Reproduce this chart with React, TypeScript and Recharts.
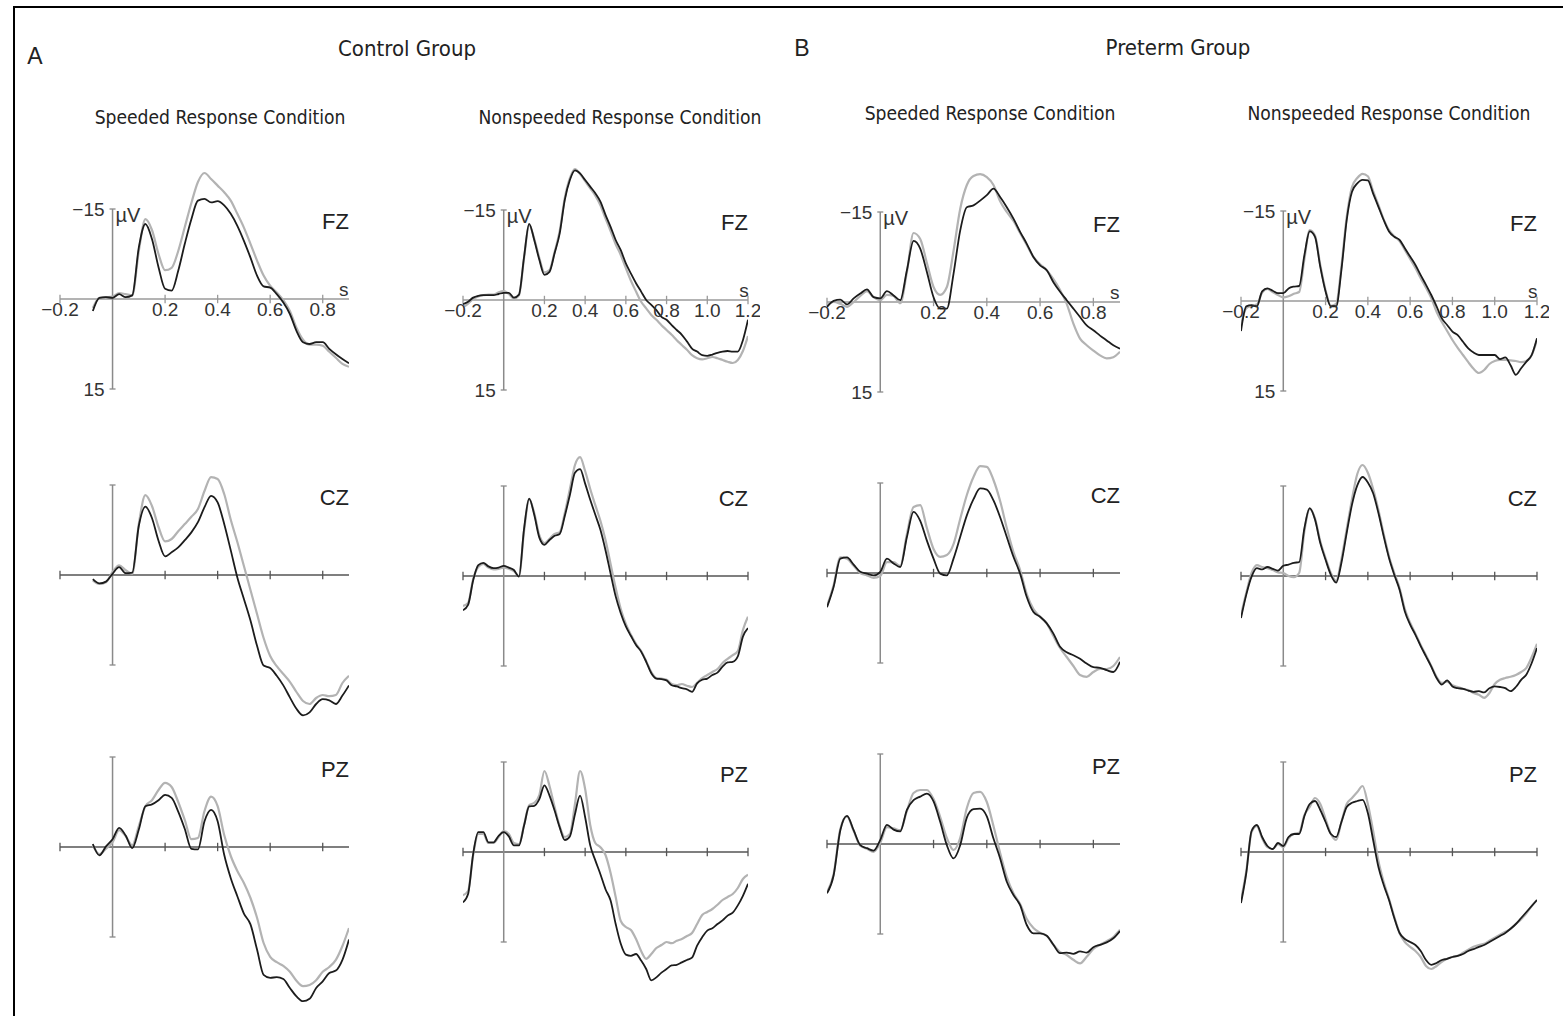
import { LineChart, Line, XAxis, YAxis, ReferenceLine, ReferenceDot } from 'recharts';

type Trace = (number | null)[];

// time base (s) for the two response conditions
const speededTimes = [
  -0.2, -0.175, -0.15, -0.125, -0.1, -0.075, -0.05, -0.025, 0, 0.025, 0.05, 0.075, 0.1, 0.125, 0.15,
  0.175, 0.2, 0.225, 0.25, 0.275, 0.3, 0.325, 0.35, 0.375, 0.4, 0.425, 0.45, 0.475, 0.5, 0.525, 0.55,
  0.575, 0.6, 0.625, 0.65, 0.675, 0.7, 0.725, 0.75, 0.775, 0.8, 0.825, 0.85, 0.875, 0.9,
];
const nonspeededTimes = [
  -0.2, -0.175, -0.15, -0.125, -0.1, -0.075, -0.05, -0.025, 0, 0.025, 0.05, 0.075, 0.1, 0.125, 0.15,
  0.175, 0.2, 0.225, 0.25, 0.275, 0.3, 0.325, 0.35, 0.375, 0.4, 0.425, 0.45, 0.475, 0.5, 0.525, 0.55,
  0.575, 0.6, 0.625, 0.65, 0.675, 0.7, 0.725, 0.75, 0.775, 0.8, 0.825, 0.85, 0.875, 0.9, 0.925, 0.95,
  0.975, 1.0, 1.025, 1.05, 1.075, 1.1, 1.125, 1.15, 1.175, 1.2,
];

const speededTicks = [-0.2, 0.2, 0.4, 0.6, 0.8];
const nonspeededTicks = [-0.2, 0.2, 0.4, 0.6, 0.8, 1.0, 1.2];

const groupTitles = ['Control Group', 'Preterm Group'];
const groupLetters = ['A', 'B'];
const conditionTitles = ['Speeded Response Condition', 'Nonspeeded Response Condition'];
const sites = ['FZ', 'CZ', 'PZ'];

// amplitudes in µV (negative up)
// Control group, speeded
const ctrlSpeedFzBlack: Trace = [null, null, null, null, null,
  2.0, -0.2, -0.3, -0.2, -0.8, -0.3, -0.6, -8.6, -12.5, -10.0, -5.3, -1.7, -1.4, -4.7, -9.2, -13.3,
  -16.4, -16.7, -16.1, -16.3, -15.6, -14.2, -12.2, -9.7, -6.9, -3.9, -2.1, -1.9, -0.8, 0.6, 2.5, 5.3,
  7.2, 7.5, 7.2, 7.2, 8.3, 9.2, 10.0, 10.7];
const ctrlSpeedFzGray: Trace = [null, null, null, null, null,
  1.5, -0.2, -0.3, -0.4, -1.0, -0.8, -0.6, -8.0, -13.3, -11.5, -7.5, -4.8, -5.2, -8.0, -12.0, -16.0,
  -19.5, -21.0, -20.0, -18.9, -17.8, -16.4, -14.2, -11.9, -9.2, -6.4, -3.9, -2.2, -1.1, 0.2, 2.0, 4.8,
  6.8, 7.6, 7.6, 7.8, 8.8, 9.8, 10.8, 11.3];
const ctrlSpeedCzBlack: Trace = [null, null, null, null, null,
  0.7, 1.4, 1.1, -0.2, -1.3, -0.3, -0.4, -8.2, -11.4, -9.5, -5.7, -3.1, -3.8, -4.6, -5.8, -7.1,
  -8.8, -11.3, -13.2, -12.1, -8.5, -4.1, 0.4, 4.0, 7.6, 11.8, 15.1, 15.5, 16.8, 18.4, 20.4, 22.3,
  23.4, 22.9, 21.5, 20.7, 20.9, 21.5, 20.1, 18.4];
const ctrlSpeedCzGray: Trace = [null, null, null, null, null,
  0.9, 1.5, 1.2, -0.5, -1.6, -0.8, -0.2, -8.5, -13.3, -11.5, -8.0, -5.6, -6.0, -7.3, -8.5, -9.7,
  -11.0, -14.0, -16.3, -16.0, -13.5, -9.2, -5.5, -1.5, 2.5, 6.5, 10.5, 13.5, 15.2, 16.5, 17.8, 19.5,
  21.0, 21.5, 20.5, 20.0, 20.2, 20.0, 18.0, 16.8];
const ctrlSpeedPzBlack: Trace = [null, null, null, null, null,
  -0.5, 1.4, -0.1, -1.3, -3.2, -1.9, 0.2, -2.9, -6.8, -7.1, -7.8, -8.7, -8.2, -5.9, -3.0, 0.3,
  0.4, -4.3, -6.2, -4.3, 1.3, 5.2, 8.2, 11.1, 12.9, 17.1, 21.3, 21.8, 21.7, 22.0, 23.5, 24.9,
  25.7, 25.3, 23.5, 22.4, 21.0, 20.6, 18.8, 15.4];
const ctrlSpeedPzGray: Trace = [null, null, null, null, null,
  -0.3, 1.2, 0.3, -0.8, -2.8, -1.8, -0.3, -3.5, -6.8, -7.8, -9.5, -10.7, -10.0, -7.5, -4.5, -1.3,
  -1.5, -6.0, -8.4, -6.8, -2.0, 1.5, 4.0, 6.0, 8.5, 11.8, 16.0, 18.3, 19.2, 19.8, 20.8, 22.3,
  23.2, 23.0, 22.2, 20.8, 20.0, 18.8, 16.5, 13.5];

// Control group, nonspeeded
const ctrlSlowFzBlack: Trace = [
  0.7, 0.3, -0.4, -0.7, -0.8, -0.8, -0.8, -1.0, -1.2, -1.2, -0.4, -0.9, -7.2, -12.7, -10.0, -6.7,
  -4.2, -4.7, -7.8, -11.1, -16.7, -20.0, -21.6, -21.1, -20.0, -18.9, -17.8, -16.4, -14.2, -12.2,
  -10.0, -8.3, -6.1, -4.4, -2.8, -1.4, 0.0, 0.8, 1.7, 2.8, 3.3, 4.2, 5.0, 5.8, 6.9, 8.1, 8.6, 9.2,
  9.3, 9.1, 8.8, 8.6, 8.5, 8.6, 8.6, 6.7, 3.3];
const ctrlSlowFzGray: Trace = [
  1.2, 0.6, -0.2, -0.6, -0.8, -0.9, -0.9, -1.3, -1.5, -1.0, -0.2, -0.8, -7.0, -12.5, -10.2, -7.0,
  -4.6, -5.0, -8.0, -11.5, -17.0, -20.3, -21.8, -21.0, -19.8, -18.6, -17.4, -15.8, -13.6, -11.5,
  -9.3, -7.5, -5.3, -3.2, -1.4, 0.3, 1.4, 2.5, 3.3, 4.2, 5.0, 5.8, 6.7, 7.5, 8.3, 9.2, 9.7, 9.9,
  9.7, 9.5, 9.7, 10.0, 10.3, 10.5, 10.0, 8.5, 6.0];
const ctrlSlowCzBlack: Trace = [
  5.7, 4.8, 0.7, -1.8, -2.2, -1.6, -1.3, -1.4, -1.7, -1.4, -1.0, 0.1, -7.9, -12.9, -10.2, -6.4,
  -5.2, -6.0, -6.7, -7.0, -10.0, -13.5, -17.2, -17.8, -15.4, -12.7, -10.2, -7.7, -4.3, -0.4, 3.4,
  6.2, 8.4, 10.0, 11.5, 12.6, 14.3, 16.2, 17.1, 17.2, 17.4, 18.2, 18.4, 18.7, 18.9, 19.3, 17.9,
  17.3, 17.1, 16.5, 16.1, 15.1, 14.4, 14.3, 13.4, 10.1, 8.7];
const ctrlSlowCzGray: Trace = [
  5.0, 4.5, 0.5, -1.5, -2.0, -1.4, -1.1, -1.2, -1.4, -1.2, -0.8, 0.0, -7.5, -12.8, -10.5, -6.8,
  -5.5, -6.2, -7.0, -7.3, -10.5, -14.5, -18.5, -19.8, -17.5, -14.5, -11.8, -9.2, -6.0, -2.0, 2.0,
  5.5, 8.0, 9.8, 11.3, 12.5, 14.2, 16.0, 17.0, 17.1, 17.3, 18.0, 18.2, 18.0, 18.3, 18.5, 17.8,
  17.0, 16.5, 16.0, 15.5, 14.5, 13.8, 13.2, 12.5, 9.0, 6.8];
const ctrlSlowPzBlack: Trace = [
  8.4, 7.0, 0.3, -3.3, -3.3, -1.6, -1.6, -2.7, -3.3, -2.6, -1.1, -1.1, -4.4, -7.6, -7.7, -8.8,
  -11.1, -9.4, -6.9, -4.1, -2.0, -2.6, -6.3, -9.4, -5.8, -1.1, 1.4, 3.7, 6.2, 8.1, 12.0, 15.3,
  17.1, 17.3, 17.0, 18.1, 19.5, 21.4, 20.9, 20.1, 19.5, 18.9, 18.8, 18.4, 18.0, 17.6, 15.6, 14.2,
  13.1, 12.7, 12.0, 11.4, 10.6, 10.1, 8.9, 7.3, 5.3];
const ctrlSlowPzGray: Trace = [
  7.2, 6.5, 0.5, -3.0, -3.0, -1.5, -1.5, -2.5, -3.5, -3.0, -1.5, -1.3, -4.5, -7.8, -8.2, -9.5,
  -13.5, -11.0, -7.5, -4.3, -2.5, -3.0, -8.0, -13.5, -10.5, -4.5, -1.5, -0.8, 0.5, 3.5, 7.5, 11.5,
  12.5, 13.0, 14.5, 16.5, 17.8, 17.0, 16.0, 15.5, 15.0, 15.2, 14.8, 14.5, 14.0, 13.5, 12.0, 10.5,
  10.0, 9.5, 8.8, 8.0, 7.5, 7.0, 6.0, 4.5, 3.8];

// Preterm group, speeded
const pretSpeedFzBlack: Trace = [
  0.8, -0.2, -0.4, 0.4, -0.6, -1.4, -2.1, -0.8, -0.6, -1.8, -1.1, -0.3, -5.3, -10.2, -8.9, -5.0,
  -0.8, 1.1, 1.1, -4.7, -11.9, -15.8, -16.1, -16.9, -17.8, -18.9, -17.5, -15.8, -13.9, -11.7, -9.7,
  -7.5, -6.1, -5.3, -3.3, -1.7, -0.3, 1.1, 2.5, 3.9, 4.7, 5.6, 6.4, 7.2, 7.8];
const pretSpeedFzGray: Trace = [
  0.5, 0.0, 0.3, 0.8, 0.0, -1.0, -1.8, -0.8, -0.3, -1.2, -1.0, 0.2, -5.0, -11.5, -10.5, -6.5,
  -2.5, -1.2, -2.5, -8.5, -15.5, -19.5, -21.0, -21.3, -20.8, -19.5, -16.8, -15.0, -13.5, -11.5, -9.5,
  -7.5, -6.3, -5.3, -3.8, -2.0, 0.3, 3.6, 6.1, 7.2, 8.1, 8.9, 9.4, 9.2, 8.3];
const pretSpeedCzBlack: Trace = [
  5.7, 2.3, -2.4, -2.6, -1.4, -0.2, 0.1, 0.4, -0.2, -2.4, -1.6, -1.0, -6.0, -10.2, -8.7, -5.4,
  -2.4, 0.1, 0.4, -2.4, -6.0, -9.6, -12.3, -14.1, -13.9, -12.1, -9.3, -6.0, -2.7, 0.1, 4.0, 6.5,
  7.3, 8.4, 10.1, 12.3, 13.2, 13.7, 14.3, 15.1, 15.7, 15.8, 16.2, 16.5, 14.8];
const pretSpeedCzGray: Trace = [
  5.5, 2.0, -2.6, -2.4, -1.2, 0.0, 0.4, 0.8, 0.5, -1.8, -1.8, -1.2, -6.5, -11.0, -11.3, -7.5,
  -4.0, -2.7, -3.0, -4.8, -9.0, -13.0, -16.0, -17.8, -17.7, -15.5, -12.0, -7.5, -3.5, -0.5, 3.5,
  6.0, 7.3, 8.4, 10.5, 12.5, 14.0, 15.5, 17.0, 17.3, 16.5, 16.0, 16.0, 15.5, 14.0];
const pretSpeedPzBlack: Trace = [
  8.2, 5.2, -2.3, -4.7, -2.3, 0.2, 0.7, 1.1, -0.7, -3.2, -2.4, -2.1, -5.7, -7.3, -7.9, -8.4,
  -7.1, -3.7, 0.2, 2.4, 0.2, -4.4, -5.8, -5.9, -4.6, -0.9, 2.4, 6.3, 8.5, 10.2, 13.5, 14.9,
  14.9, 15.3, 16.8, 18.2, 18.1, 18.3, 17.9, 18.1, 17.2, 16.8, 16.4, 15.7, 14.5];
const pretSpeedPzGray: Trace = [
  8.0, 5.0, -2.5, -4.6, -2.2, 0.3, 0.8, 1.3, -0.2, -2.8, -2.6, -2.3, -5.5, -8.5, -9.0, -9.0,
  -7.5, -4.5, -1.0, 1.0, -1.0, -6.0, -8.5, -8.7, -7.0, -3.0, 1.5, 5.5, 8.2, 10.0, 12.5, 14.0,
  14.8, 15.3, 16.8, 18.0, 18.5, 19.3, 19.9, 18.8, 17.5, 16.8, 16.2, 15.5, 14.3];

// Preterm group, nonspeeded
const pretSlowFzBlack: Trace = [
  5.0, 0.9, 0.7, 0.9, -1.6, -2.1, -1.7, -1.3, -1.3, -2.1, -2.4, -2.5, -7.7, -11.6, -10.7, -5.7,
  -1.6, 0.9, 0.9, -5.2, -13.5, -18.2, -19.6, -20.2, -20.1, -17.9, -15.7, -13.5, -11.6, -10.7,
  -10.2, -8.8, -7.4, -6.0, -4.3, -2.7, -1.0, 0.9, 2.9, 4.0, 5.1, 5.7, 6.8, 7.9, 8.6, 9.0, 9.0, 9.0,
  9.0, 9.7, 9.4, 10.7, 12.3, 11.2, 10.1, 9.0, 6.2];
const pretSlowFzGray: Trace = [
  4.0, 1.2, 0.8, 0.6, -1.4, -2.0, -1.5, -1.0, -0.6, -0.8, -1.2, -1.5, -7.0, -11.8, -10.9, -6.0,
  -1.8, 0.8, 0.5, -5.8, -14.0, -19.0, -20.5, -21.2, -20.8, -18.3, -16.0, -13.6, -11.8, -10.8,
  -10.0, -8.5, -7.0, -5.5, -3.8, -2.2, -0.5, 1.8, 3.5, 5.0, 6.5, 7.8, 9.0, 10.2, 11.3, 12.0, 11.5,
  10.5, 10.0, 9.8, 9.8, 9.9, 10.0, 10.2, 10.0, 9.0, 6.5];
const pretSlowCzBlack: Trace = [
  7.0, 3.1, 0.1, -1.3, -1.1, -1.5, -1.2, -0.9, -1.7, -1.9, -2.2, -2.3, -8.0, -11.3, -9.4, -5.5,
  -2.7, -0.2, 1.1, -2.2, -7.2, -11.9, -15.1, -16.5, -15.6, -13.8, -10.5, -6.6, -3.0, -0.2, 2.3,
  5.9, 8.1, 9.8, 11.7, 13.4, 15.1, 17.0, 18.1, 17.4, 18.4, 18.7, 18.8, 19.1, 19.3, 19.2, 19.4,
  18.7, 18.4, 18.5, 18.7, 19.2, 18.5, 17.3, 16.4, 14.5, 12.0];
const pretSlowCzGray: Trace = [
  6.5, 2.8, -0.5, -1.8, -1.5, -1.3, -1.0, -0.6, -0.5, 0.0, 0.2, -0.5, -7.5, -11.2, -9.6, -5.8,
  -3.0, -0.5, 0.8, -2.8, -7.8, -12.8, -17.0, -18.5, -17.2, -14.5, -11.0, -7.0, -3.3, -0.5, 2.0,
  5.5, 7.8, 9.6, 11.5, 13.2, 15.0, 16.8, 17.8, 17.6, 18.2, 18.5, 18.8, 19.0, 19.5, 19.8, 20.3,
  19.5, 18.0, 17.3, 17.0, 16.8, 16.5, 16.0, 15.3, 13.5, 11.3];
const pretSlowPzBlack: Trace = [
  8.5, 3.5, -3.5, -4.5, -2.5, -1.0, -0.5, -1.5, -1.0, -2.5, -3.0, -3.0, -6.0, -8.0, -8.5, -7.0,
  -5.0, -3.0, -2.5, -5.0, -7.5, -8.2, -8.5, -8.7, -6.5, -2.0, 2.5, 5.5, 8.0, 11.0, 13.5, 14.5,
  15.0, 15.5, 16.5, 18.0, 18.8, 18.5, 18.0, 17.8, 17.5, 17.3, 17.0, 16.5, 16.2, 15.8, 15.5, 15.0,
  14.5, 14.0, 13.5, 12.8, 12.0, 11.0, 10.0, 9.0, 8.0];
const pretSlowPzGray: Trace = [
  8.0, 3.2, -3.3, -4.3, -2.3, -0.8, -0.5, -1.3, -0.8, -2.3, -3.0, -3.2, -6.2, -7.5, -9.0, -8.0,
  -5.5, -3.0, -2.0, -5.0, -8.0, -9.0, -10.0, -11.0, -8.0, -3.5, 1.5, 5.0, 7.8, 10.8, 13.5, 15.0,
  15.8, 16.5, 17.5, 19.0, 19.5, 19.0, 18.3, 17.8, 17.5, 17.3, 16.8, 16.3, 15.8, 15.5, 15.3, 14.8,
  14.3, 13.8, 13.3, 12.8, 12.0, 11.2, 10.2, 9.0, 8.0];

const columns = [
  { left: 60, width: 289, tEnd: 0.9, times: speededTimes, ticks: speededTicks },
  { left: 463, width: 285, tEnd: 1.2, times: nonspeededTimes, ticks: nonspeededTicks },
  { left: 827, width: 293, tEnd: 0.9, times: speededTimes, ticks: speededTicks },
  { left: 1241, width: 296, tEnd: 1.2, times: nonspeededTimes, ticks: nonspeededTicks },
];
const rowBaselines = [
  [299, 575, 847],
  [300, 576, 852],
  [302, 573, 844],
  [301, 576, 852],
];
const traces: [Trace, Trace][][] = [
  [[ctrlSpeedFzBlack, ctrlSpeedFzGray], [ctrlSpeedCzBlack, ctrlSpeedCzGray], [ctrlSpeedPzBlack, ctrlSpeedPzGray]],
  [[ctrlSlowFzBlack, ctrlSlowFzGray], [ctrlSlowCzBlack, ctrlSlowCzGray], [ctrlSlowPzBlack, ctrlSlowPzGray]],
  [[pretSpeedFzBlack, pretSpeedFzGray], [pretSpeedCzBlack, pretSpeedCzGray], [pretSpeedPzBlack, pretSpeedPzGray]],
  [[pretSlowFzBlack, pretSlowFzGray], [pretSlowCzBlack, pretSlowCzGray], [pretSlowPzBlack, pretSlowPzGray]],
];

const V_MIN = -28;
const V_MAX = 28;
const PX_PER_UV = 6;
const PAD_L = 50;
const PAD_R = 12;
const SANS = '"Liberation Sans", Arial, sans-serif';
const NARROW = '"Liberation Sans Narrow", "DejaVu Sans Condensed", "Liberation Sans", sans-serif';

const tickText = (t: number) => (t < 0 ? '\u2212' + Math.abs(t).toFixed(1) : t.toFixed(1));

interface PanelProps {
  col: number;
  row: number;
}

function ErpPanel({ col, row }: PanelProps) {
  const { left, width, tEnd, times, ticks } = columns[col];
  const baseline = rowBaselines[col][row];
  const [black, gray] = traces[col][row];
  const data = times.map((t, i) => ({ t, black: black[i], gray: gray[i] }));
  const height = (V_MAX - V_MIN) * PX_PER_UV;
  const secPerPx = (tEnd + 0.2) / width;
  const labelled = row === 0;
  const xAxisColor = row === 0 ? '#9a9a9a' : '#555';
  const yAxisColor = '#8a8a8a';
  const tickHalf = 0.7;
  const textStyle = { fill: '#333', fontSize: 19, fontFamily: SANS };

  return (
    <div style={{ position: 'absolute', left: left - PAD_L, top: baseline - height / 2 }}>
      <LineChart
        width={width + PAD_L + PAD_R}
        height={height}
        data={data}
        margin={{ top: 0, right: PAD_R, bottom: 0, left: PAD_L }}
      >
        <XAxis type="number" dataKey="t" domain={[-0.2, tEnd]} allowDataOverflow hide />
        <YAxis type="number" domain={[V_MIN, V_MAX]} allowDataOverflow reversed hide />

        {/* x axis through 0 µV, with its ticks */}
        <ReferenceLine segment={[{ x: -0.2, y: 0 }, { x: tEnd, y: 0 }]} stroke={xAxisColor} strokeWidth={1.5} />
        {ticks.map((t) => (
          <ReferenceLine
            key={`tick-${t}`}
            segment={[{ x: t, y: -tickHalf }, { x: t, y: tickHalf }]}
            stroke={xAxisColor}
            strokeWidth={1.3}
          />
        ))}

        {/* y axis at stimulus onset, -15 .. 15 µV */}
        <ReferenceLine segment={[{ x: 0, y: -15 }, { x: 0, y: 15 }]} stroke={yAxisColor} strokeWidth={1.5} />
        <ReferenceLine segment={[{ x: -3 * secPerPx, y: -15 }, { x: 3 * secPerPx, y: -15 }]} stroke={yAxisColor} strokeWidth={1.3} />
        <ReferenceLine segment={[{ x: -3 * secPerPx, y: 15 }, { x: 3 * secPerPx, y: 15 }]} stroke={yAxisColor} strokeWidth={1.3} />

        <Line type="monotone" dataKey="gray" stroke="#b3b3b3" strokeWidth={2.2} dot={false} isAnimationActive={false} />
        <Line type="monotone" dataKey="black" stroke="#1c1c1c" strokeWidth={1.8} dot={false} isAnimationActive={false} />

        {labelled &&
          ticks.map((t) => (
            <ReferenceDot
              key={`lbl-${t}`}
              x={t}
              y={0}
              r={0}
              fill="none"
              stroke="none"
              label={{ value: tickText(t), position: 'bottom', offset: 4, ...textStyle }}
            />
          ))}
        {labelled && (
          <ReferenceDot x={tEnd - 0.02} y={0} r={0} fill="none" stroke="none"
            label={{ value: 's', position: 'top', offset: 3, ...textStyle }} />
        )}
        {labelled && (
          <ReferenceDot x={0} y={-15} r={0} fill="none" stroke="none"
            label={{ value: '\u221215', position: 'left', offset: 8, ...textStyle }} />
        )}
        {labelled && (
          <ReferenceDot x={0} y={15} r={0} fill="none" stroke="none"
            label={{ value: '15', position: 'left', offset: 8, ...textStyle }} />
        )}
        {labelled && (
          <ReferenceDot x={0} y={-14} r={0} fill="none" stroke="none"
            label={{ value: '\u00b5V', position: 'right', offset: 3, ...textStyle, fontSize: 20 }} />
        )}
        <ReferenceDot x={tEnd} y={-13} r={0} fill="none" stroke="none"
          label={{ value: sites[row], position: 'left', offset: 0, fill: '#222', fontSize: 22, fontFamily: SANS }} />
      </LineChart>
    </div>
  );
}

interface HeadingProps {
  x: number;
  y: number;
  text: string;
  size: number;
  font: string;
  squeeze?: number;
}

function Heading({ x, y, text, size, font, squeeze = 1 }: HeadingProps) {
  return (
    <div
      style={{
        position: 'absolute',
        left: x,
        top: y,
        transform: `translate(-50%, -50%) scaleX(${squeeze})`,
        whiteSpace: 'nowrap',
        fontFamily: font,
        fontSize: size,
        color: '#222',
      }}
    >
      {text}
    </div>
  );
}

export default function App() {
  return (
    <div
      style={{
        position: 'absolute',
        left: 0,
        top: 0,
        width: 1563,
        height: 1016,
        background: '#fff',
        overflow: 'hidden',
      }}
    >
      <div
        style={{
          position: 'absolute',
          left: 13,
          top: 6,
          width: 1580,
          height: 1030,
          border: '2px solid #000',
        }}
      />
      <Heading x={35} y={56} text={groupLetters[0]} size={23} font={SANS} />
      <Heading x={407} y={48} text={groupTitles[0]} size={22} font={NARROW} />
      <Heading x={802} y={48} text={groupLetters[1]} size={23} font={SANS} />
      <Heading x={1178} y={47} text={groupTitles[1]} size={22} font={NARROW} />
      <Heading x={220} y={117} text={conditionTitles[0]} size={20} font={NARROW} squeeze={0.955} />
      <Heading x={620} y={117} text={conditionTitles[1]} size={20} font={NARROW} squeeze={0.955} />
      <Heading x={990} y={113} text={conditionTitles[0]} size={20} font={NARROW} squeeze={0.955} />
      <Heading x={1389} y={113} text={conditionTitles[1]} size={20} font={NARROW} squeeze={0.955} />

      {columns.map((_, col) =>
        sites.map((_, row) => <ErpPanel key={`${col}-${row}`} col={col} row={row} />),
      )}
    </div>
  );
}
